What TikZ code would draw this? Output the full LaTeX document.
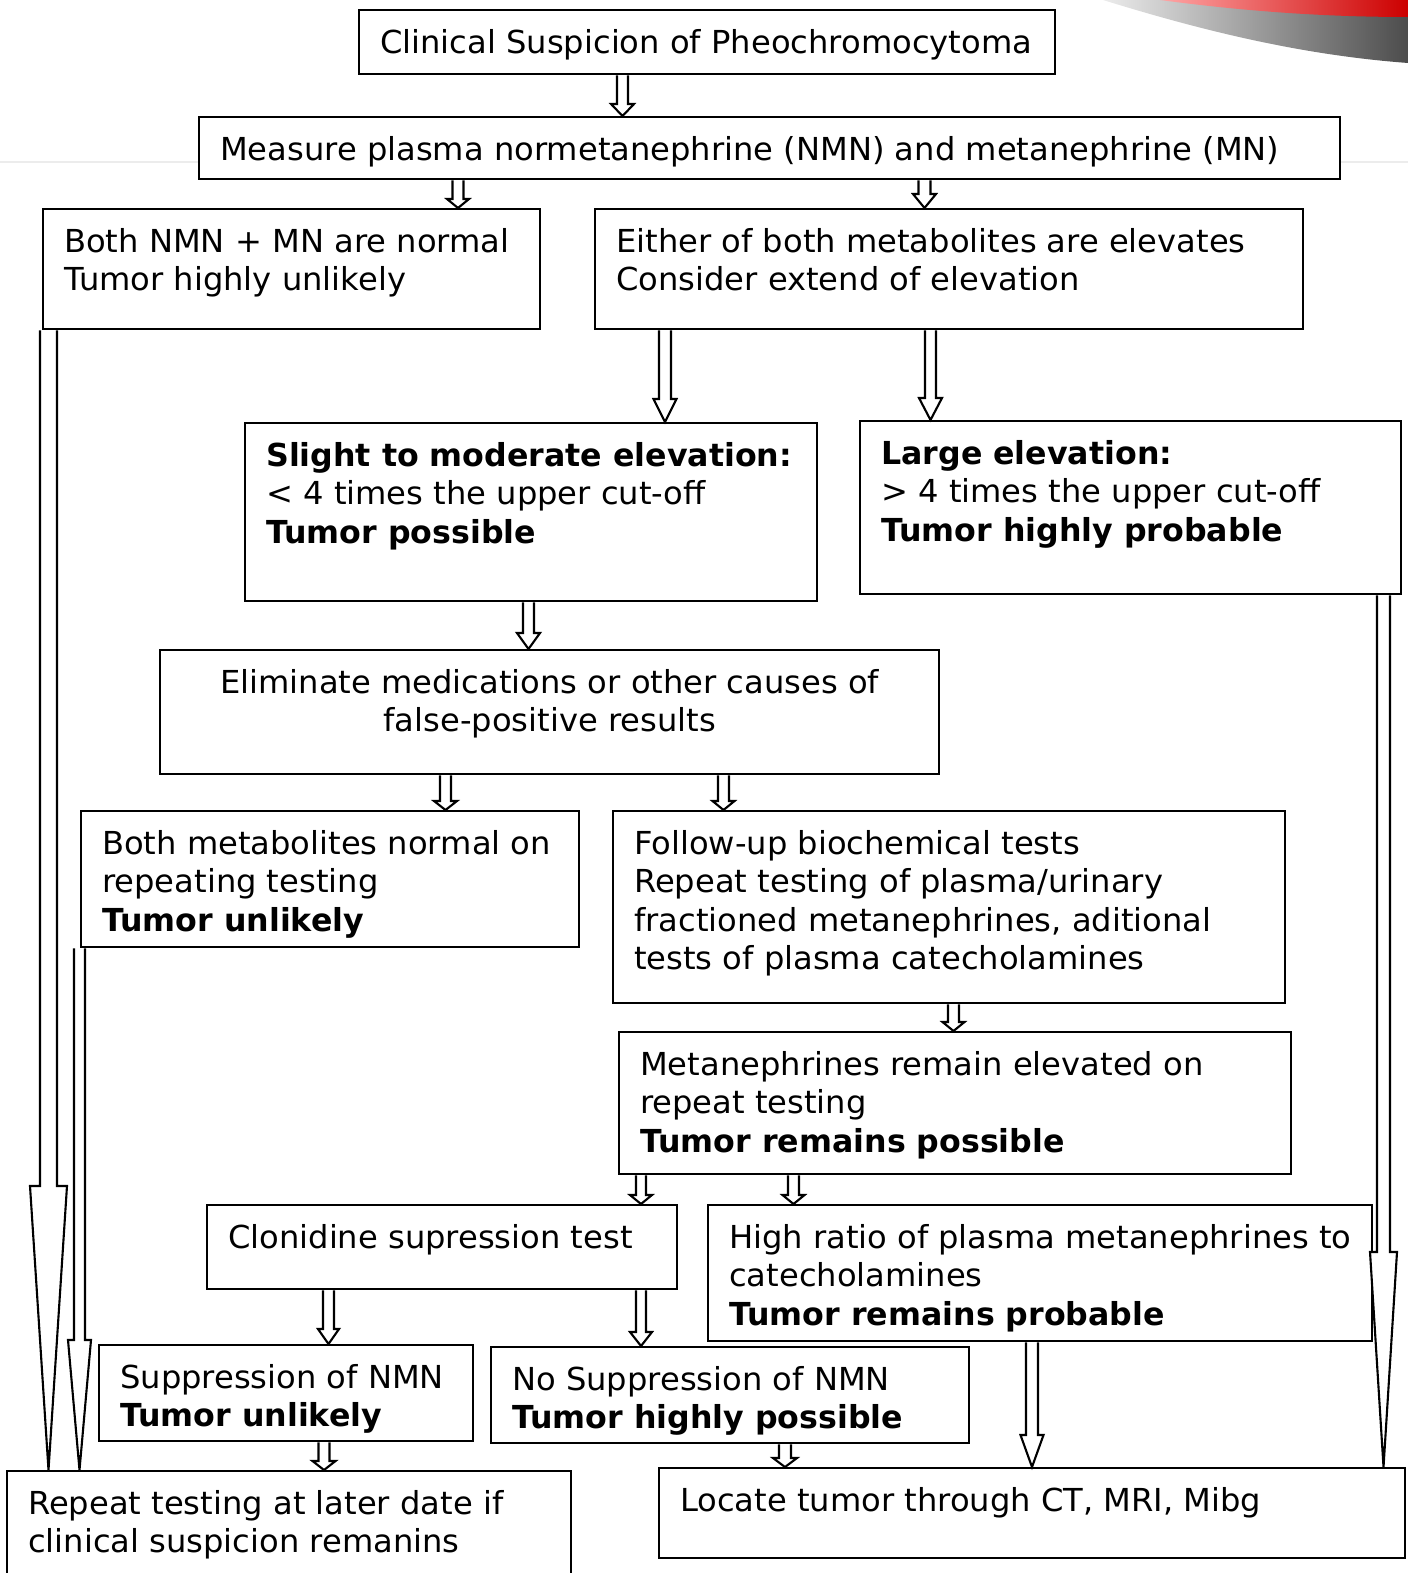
\documentclass[tikz,border=0pt]{standalone}
\usepackage{fontspec}
\setmainfont{DejaVu Sans}[UprightFeatures={FakeStretch=1.016}]
\usetikzlibrary{calc}
\newlength{\px}
\setlength{\px}{0.01cm}
\newcommand{\chartfont}{\fontsize{9}{10.95}\selectfont}
% box contents: width, height, text (first baseline 43px below the top)
\newcommand{\cell}[4][\raggedright]{\parbox[c][#3\px][t]{\dimexpr#2\px-42\px\relax}{#1\rule{0pt}{43\px}#4}}
% hollow block arrow: from, to, x, shaft half width, head half width, head length
\newcommand{\blockarrow}[6]{%
  \path (#3,0 |- #1.south) coordinate (tail) (#3,0 |- #2.north) coordinate (tip);
  \draw[arrowline] ($(tail)+(-#4,0)$) -- ($(tip)+(-#4,-#6)$) -- ($(tip)+(-#5,-#6)$) -- (tip)
    -- ($(tip)+(#5,-#6)$) -- ($(tip)+(#4,-#6)$) -- ($(tail)+(#4,0)$);}
\tikzset{
  box/.style={draw, line width=0.7pt, fill=white, anchor=north west, inner xsep=21\px, inner ysep=0pt, font=\chartfont},
  arrowline/.style={line width=0.6pt, fill=white},
}
\begin{document}
\begin{tikzpicture}[x=0.01cm,y=-0.01cm]
\useasboundingbox (0,0) rectangle (1408,1573);
% slide decoration
\shade[left color=gray!15, right color=black!70] (1103,0) .. controls (1200,30) and (1300,55) .. (1408,63) -- (1408,0) -- cycle;
\shade[left color=red!35, right color=red!80!black] (1160,0) .. controls (1250,12) and (1330,17) .. (1408,17) -- (1408,0) -- cycle;
\draw[gray!15] (0,162) -- (1408,162);

\node (clin) [box] at (358,9) {\cell{696}{64}{Clinical Suspicion of Pheochromocytoma}};
\node (meas) [box] at (198,116) {\cell{1141}{62}{Measure plasma normetanephrine (NMN) and metanephrine (MN)}};
\node (bothnorm) [box] at (42,208) {\cell{497}{120}{Both NMN + MN are normal\\Tumor highly unlikely}};
\node (either) [box] at (594,208) {\cell{708}{120}{Either of both metabolites are elevates\\Consider extend of elevation}};
\node (slight) [box] at (244,422) {\cell{572}{178}{\textbf{Slight to moderate elevation:}\\< 4 times the upper cut-off\\\textbf{Tumor possible}}};
\node (large) [box] at (859,420) {\cell{541}{173}{\textbf{Large elevation:}\\> 4 times the upper cut-off\\\textbf{Tumor highly probable}}};
\node (elim) [box] at (159,649) {\cell[\centering]{779}{124}{Eliminate medications or other causes of\\false-positive results}};
\node (metnorm) [box] at (80,810) {\cell{498}{136}{Both metabolites normal on\\repeating testing\\\textbf{Tumor unlikely}}};
\node (follow) [box] at (612,810) {\cell{672}{192}{Follow-up biochemical tests\\Repeat testing of plasma/urinary\\fractioned metanephrines, aditional\\tests of plasma catecholamines}};
\node (remain) [box] at (618,1031) {\cell{672}{142}{Metanephrines remain elevated on\\repeat testing\\\textbf{Tumor remains possible}}};
\node (clon) [box] at (206,1204) {\cell{470}{84}{Clonidine supression test}};
\node (ratio) [box] at (707,1204) {\cell{664}{136}{High ratio of plasma metanephrines to\\catecholamines\\\textbf{Tumor remains probable}}};
\node (supp) [box] at (98,1344) {\cell{374}{96}{Suppression of NMN\\\textbf{Tumor unlikely}}};
\node (nosupp) [box] at (490,1346) {\cell{478}{96}{No Suppression of NMN\\\textbf{Tumor highly possible}}};
\node (repeat) [box] at (6,1470) {\cell{564}{110}{Repeat testing at later date if\\clinical suspicion remanins}};
\node (locate) [box] at (658,1467) {\cell{746}{90}{Locate tumor through CT, MRI, Mibg}};

\blockarrow{clin}{meas}{622.5}{5.5}{11.5}{12}
\blockarrow{meas}{bothnorm}{458}{5.5}{11}{9}
\blockarrow{meas}{either}{924.5}{6}{11.5}{14}
\blockarrow{either}{slight}{665}{6}{11.5}{23}
\blockarrow{either}{large}{930.5}{5.5}{11.5}{22}
\blockarrow{slight}{elim}{528.5}{5.5}{11.5}{16}
\blockarrow{elim}{metnorm}{445.5}{5.5}{11.5}{9}
\blockarrow{elim}{follow}{723.5}{5.5}{11}{9}
\blockarrow{follow}{remain}{953.5}{5.5}{11}{9}
\blockarrow{remain}{clon}{641}{5}{11}{9}
\blockarrow{remain}{ratio}{793.5}{5.5}{11}{9}
\blockarrow{clon}{supp}{328.5}{5.5}{10.5}{15}
\blockarrow{clon}{nosupp}{641}{5}{11}{14}
\blockarrow{supp}{repeat}{324}{5.5}{11.5}{9}
\blockarrow{nosupp}{locate}{785}{6}{12}{9}
\blockarrow{ratio}{locate}{1032}{6}{11.5}{32}
\blockarrow{bothnorm}{repeat}{48.5}{8.5}{18.5}{284}
\blockarrow{metnorm}{repeat}{79.5}{5.5}{11.5}{130}
\blockarrow{large}{locate}{1383.5}{6.5}{13.5}{215}
\end{tikzpicture}
\end{document}
